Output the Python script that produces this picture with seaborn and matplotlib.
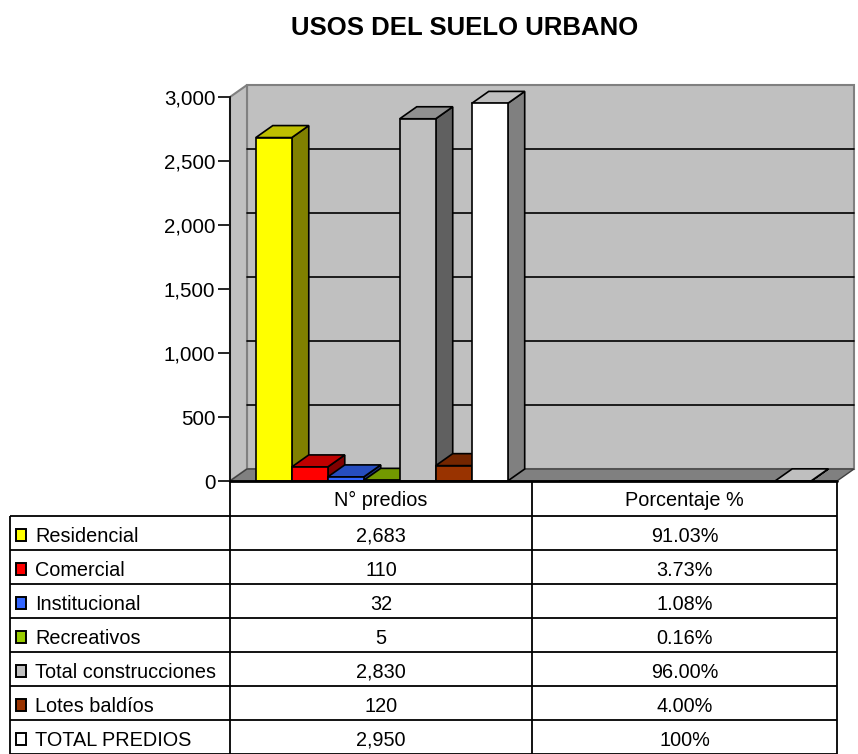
import matplotlib
matplotlib.use("Agg")
import matplotlib.pyplot as plt
from matplotlib.patches import Polygon, Rectangle
from matplotlib.ticker import FuncFormatter
import seaborn as sns
import pandas as pd
import numpy as np

# ---------------- data ----------------
title = "USOS DEL SUELO URBANO"
groups = ["N° predios", "Porcentaje %"]
categories = ["Residencial", "Comercial", "Institucional", "Recreativos",
              "Total construcciones", "Lotes baldíos", "TOTAL PREDIOS"]
counts = [2683, 110, 32, 5, 2830, 120, 2950]
percents = [0.9103, 0.0373, 0.0108, 0.0016, 0.9600, 0.0400, 1.0]
percent_labels = ["91.03%", "3.73%", "1.08%", "0.16%", "96.00%", "4.00%", "100%"]
colors = ["#FFFF00", "#FF0000", "#3366FF", "#99CC00", "#C0C0C0", "#993300", "#FFFFFF"]
y_ticks = [0, 500, 1000, 1500, 2000, 2500, 3000]

# ---------------- style ----------------
sns.set_style("white")
plt.rcParams['font.family'] = ['Liberation Sans', 'DejaVu Sans']
plt.rcParams['text.color'] = 'black'
plt.rcParams['axes.labelcolor'] = 'black'
plt.rcParams['xtick.color'] = 'black'
plt.rcParams['ytick.color'] = 'black'

W, H = 858, 754
fig = plt.figure(figsize=(W / 100, H / 100), dpi=100)
fig.patch.set_facecolor("white")

# front plot rectangle in pixels
L, R, B, T = 230, 837, 481, 97
ax = fig.add_axes([L / W, 1 - B / H, (R - L) / W, (B - T) / H])

df = pd.DataFrame({
    "group": np.repeat(groups, len(categories)),
    "category": categories * len(groups),
    "value": counts + percents,
})

sns.barplot(data=df, x="group", y="value", hue="category", order=groups,
            hue_order=categories, palette=colors, width=0.83, saturation=1,
            edgecolor="black", linewidth=1.2, errorbar=None, legend=False, ax=ax)

ymax = y_ticks[-1]
ax.set_xlim(-0.5, 1.5)
ax.set_ylim(0, ymax)
ax.set_xlabel("")
ax.set_ylabel("")
ax.set_xticks([])
ax.patch.set_alpha(0)

# 3D depth offsets in data units
dx = 17 / (R - L) * 2.0
dy = 12 / (B - T) * ymax

# walls and floor
ax.add_patch(Rectangle((-0.5 + dx, dy), 2.0, ymax, facecolor="#C0C0C0",
                       edgecolor="#808080", lw=1.5, zorder=0.5, clip_on=False))
ax.add_patch(Polygon([(-0.5, 0), (-0.5 + dx, dy), (-0.5 + dx, ymax + dy), (-0.5, ymax)],
                     closed=True, facecolor="#C0C0C0", edgecolor="#808080", lw=1.5,
                     zorder=0.6, clip_on=False))
ax.add_patch(Polygon([(-0.5, 0), (1.5, 0), (1.5 + dx, dy), (-0.5 + dx, dy)],
                     closed=True, facecolor="#808080", edgecolor="#404040", lw=1.0,
                     zorder=0.7, clip_on=False))
for v in y_ticks[1:-1]:
    ax.plot([-0.5 + dx, 1.5 + dx], [v + dy, v + dy], color="black", lw=1.2,
            zorder=0.8, clip_on=False)

# 3D faces for bars
bars = sorted([p for p in ax.patches if isinstance(p, Rectangle) and p.get_width() < 0.5
               and p.get_facecolor()[3] > 0 and p.get_zorder() >= 0.9],
              key=lambda p: p.get_x())
for i, p in enumerate(bars):
    x, w, h = p.get_x(), p.get_width(), p.get_height()
    fc = np.array(p.get_facecolor()[:3])
    base_z = 3 + 2 * i
    p.set_zorder(base_z + 1)
    p.set_clip_on(False)
    if h >= 1:
        side = Polygon([(x + w, 0), (x + w + dx, dy), (x + w + dx, h + dy), (x + w, h)],
                       closed=True, facecolor=fc * 0.5, edgecolor="black", lw=1.2,
                       zorder=base_z, clip_on=False)
        top = Polygon([(x, h), (x + dx, h + dy), (x + w + dx, h + dy), (x + w, h)],
                      closed=True, facecolor=fc * 0.75, edgecolor="black", lw=1.2,
                      zorder=base_z, clip_on=False)
        ax.add_patch(side)
        ax.add_patch(top)

# y axis
for s in ["top", "right", "bottom"]:
    ax.spines[s].set_visible(False)
ax.spines["left"].set_color("black")
ax.spines["left"].set_linewidth(1.2)
ax.spines["left"].set_zorder(50)
ax.set_yticks(y_ticks)
ax.yaxis.set_major_formatter(FuncFormatter(lambda v, pos: f"{v:,.0f}"))
ax.tick_params(axis="y", direction="out", length=9, width=1.2, color="black",
               labelcolor="black", labelsize=14.8, pad=1.5, left=True)

# title
fig.text(465 / W, 1 - 28 / H, title, ha="center", va="center",
         fontsize=18.5, fontweight="bold", color="black")

# ---------------- data table ----------------
tx = fig.add_axes([0, 0, 1, 1], zorder=100)
tx.set_xlim(0, W)
tx.set_ylim(H, 0)
tx.axis("off")
tx.patch.set_alpha(0)

c0, c1, c2, c3 = 10, L, 532, R
hdr_top, hdr_bot = B, 516
row_h = 34
n = len(categories)
bottom = hdr_bot + row_h * n
lk = dict(color="black", lw=1.3, solid_capstyle="butt")
tx.plot([c1, c3], [hdr_top, hdr_top], color="black", lw=2.0)
for k in range(n + 1):
    y = hdr_bot + row_h * k
    tx.plot([c0, c3], [y, y], **lk)
tx.plot([c0, c0], [hdr_bot, bottom], **lk)
for cx in (c1, c2, c3):
    tx.plot([cx, cx], [hdr_top, bottom], **lk)

fs = 14.3
tx.text((c1 + c2) / 2, (hdr_top + hdr_bot) / 2 + 2, groups[0], ha="center", va="center",
        fontsize=fs, color="black")
tx.text((c2 + c3) / 2, (hdr_top + hdr_bot) / 2 + 2, groups[1], ha="center", va="center",
        fontsize=fs, color="black")
for k, (cat, col, cnt, pl) in enumerate(zip(categories, colors, counts, percent_labels)):
    yc = hdr_bot + row_h * k + row_h / 2 + 3
    tx.add_patch(Rectangle((15.5, yc - 7), 10.5, 11.5, facecolor=col, edgecolor="black", lw=1.4))
    tx.text(35, yc, cat, ha="left", va="center", fontsize=fs, color="black")
    tx.text((c1 + c2) / 2, yc, f"{cnt:,}", ha="center", va="center", fontsize=fs, color="black")
    tx.text((c2 + c3) / 2, yc, pl, ha="center", va="center", fontsize=fs, color="black")

fig.savefig("out.png", dpi=100, facecolor="white")
